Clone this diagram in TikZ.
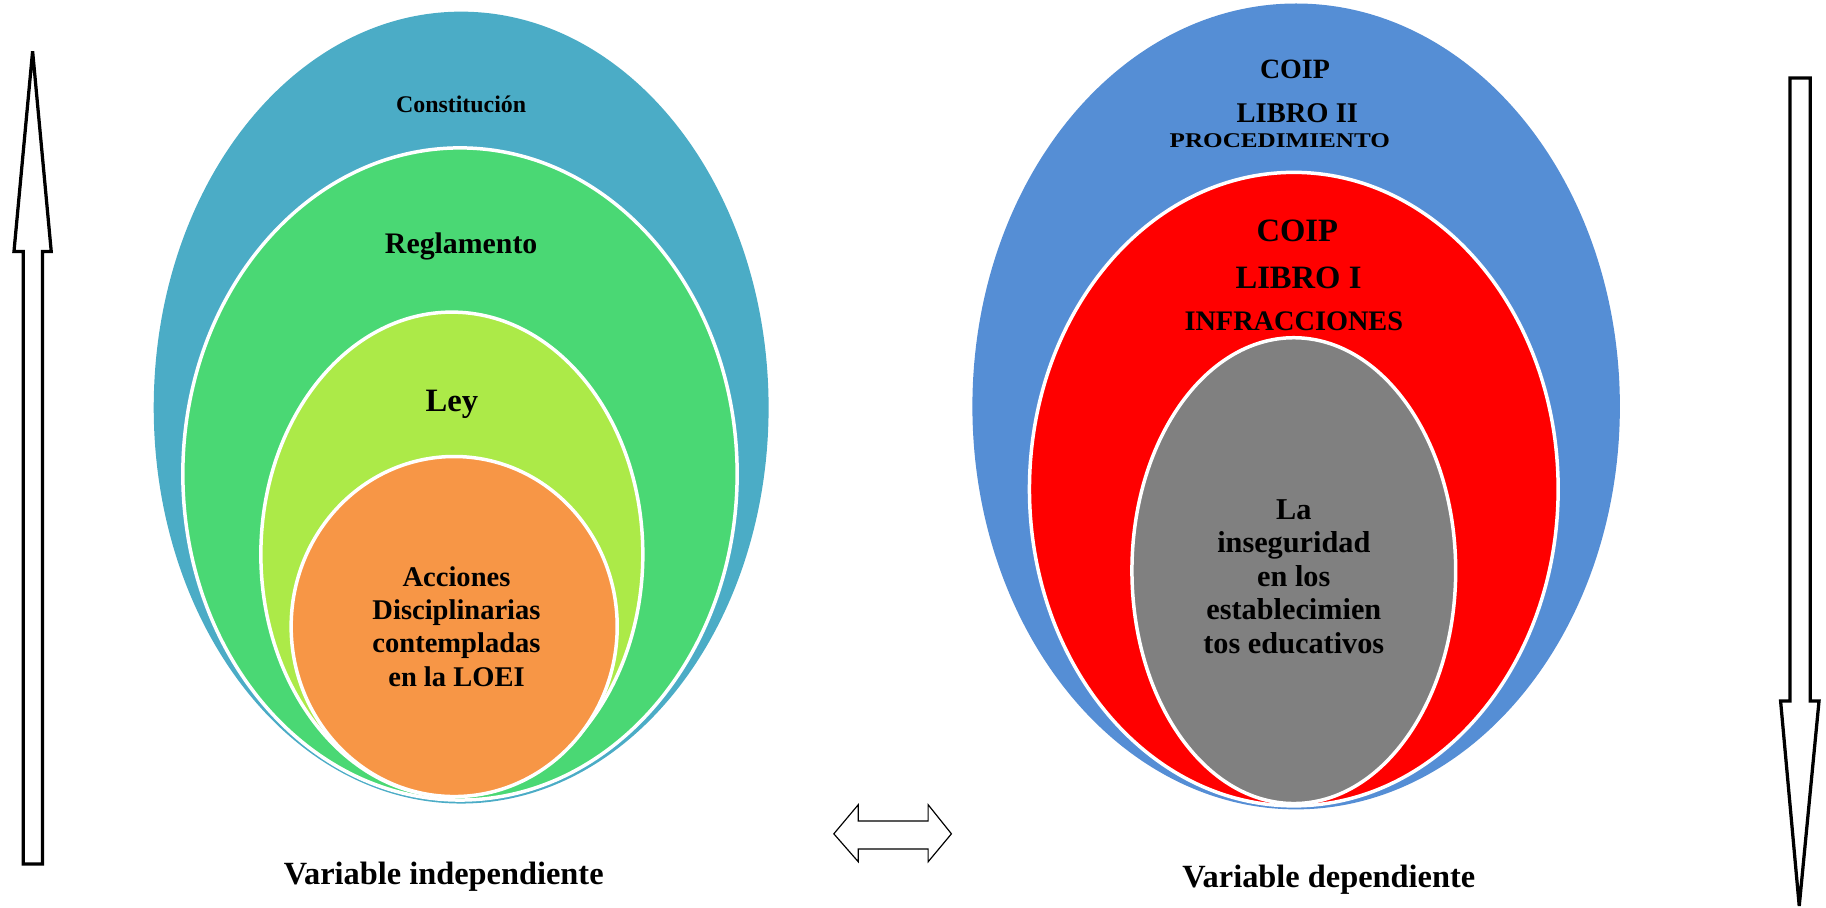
\documentclass[tikz,border=0pt]{standalone}
\usepackage{fontspec}
\setmainfont{Liberation Serif}
\definecolor{constblue}{RGB}{75, 172, 198}
\definecolor{reglgreen}{RGB}{74, 216, 116}
\definecolor{leylime}{RGB}{172, 234, 72}
\definecolor{loeiorange}{RGB}{247, 150, 70}
\definecolor{coipblue}{RGB}{85, 142, 213}
\definecolor{coipred}{RGB}{255, 0, 0}
\definecolor{grisgray}{RGB}{128, 128, 128}

\begin{document}
\begin{tikzpicture}[x=1pt, y=-1pt,
    ring/.style={draw=white, line width=3pt},
    lbl/.style={font=#1, align=center, inner sep=0pt},
    hollow/.style={draw=black, fill=white, line width=2.8pt, line join=miter}]
\useasboundingbox (0,0) rectangle (1568,779);

% variable independiente
\fill[constblue] (396,350) ellipse [x radius=264, y radius=340];
\filldraw[fill=reglgreen, ring] (395,407) ellipse [x radius=238, y radius=280];
\filldraw[fill=leylime, ring] (388,476) ellipse [x radius=164, y radius=208];
\filldraw[fill=loeiorange, ring] (390,538) ellipse [x radius=140, y radius=146];
\node[lbl=\fontsize{20.5}{24}\selectfont\bfseries] (const) at (396,90) {Constitución};
\node[lbl=\fontsize{25.6}{30}\selectfont\bfseries] (regl) at (396,212) {Reglamento};
\node[lbl=\fontsize{28}{32}\selectfont\bfseries] (ley) at (388,347) {Ley};
\node[lbl=\fontsize{24.5}{28.5}\selectfont\bfseries] (loei) at (392,538)
    {Acciones\\Disciplinarias\\contempladas\\en la LOEI};

% variable dependiente
\fill[coipblue] (1113,349) ellipse [x radius=278, y radius=346];
\filldraw[fill=coipred, ring] (1111,420) ellipse [x radius=227, y radius=272];
\filldraw[fill=grisgray, ring] (1111,490) ellipse [x radius=139, y radius=200];
\node[lbl=\fontsize{24}{28}\selectfont\bfseries] (coipa) at (1112,60) {COIP};
\node[lbl=\fontsize{24.5}{28}\selectfont\bfseries] (libroa) at (1114,97) {LIBRO II};
\node[lbl=\fontsize{18}{20}\selectfont\bfseries] (proc) at (1099,121) {\addfontfeature{FakeStretch=1.2}PROCEDIMIENTO};
\node[lbl=\fontsize{28}{32}\selectfont\bfseries] (coipb) at (1114,198) {COIP};
\node[lbl=\fontsize{28}{32}\selectfont\bfseries] (librob) at (1115,239) {LIBRO I};
\node[lbl=\fontsize{24.3}{28}\selectfont\bfseries] (infr) at (1111,276) {INFRACCIONES};
\node[lbl=\fontsize{26}{28.8}\selectfont\bfseries] (inseg) at (1111,495)
    {La\\inseguridad\\en los\\establecimien\\tos educativos};

\node[lbl=\fontsize{27.8}{30}\selectfont\bfseries] (indep) at (381,753) {Variable independiente};
\node[lbl=\fontsize{27.8}{30}\selectfont\bfseries] (dep) at (1141,755) {Variable dependiente};

% flechas
\draw[hollow] (28,44) -- (44,216) -- (36.5,216) -- (36.5,742) -- (20,742)
    -- (20,216) -- (12,216) -- cycle;
\draw[hollow] (1545,778) -- (1562,602) -- (1554.5,602) -- (1554.5,67) -- (1537,67)
    -- (1537,602) -- (1529,602) -- cycle;
\draw[draw=black, fill=white, line width=1pt] (716,716) -- (737,691) -- (737,705)
    -- (797,705) -- (797,691) -- (817,716) -- (797,740) -- (797,729)
    -- (737,729) -- (737,740) -- cycle;
\end{tikzpicture}
\end{document}
